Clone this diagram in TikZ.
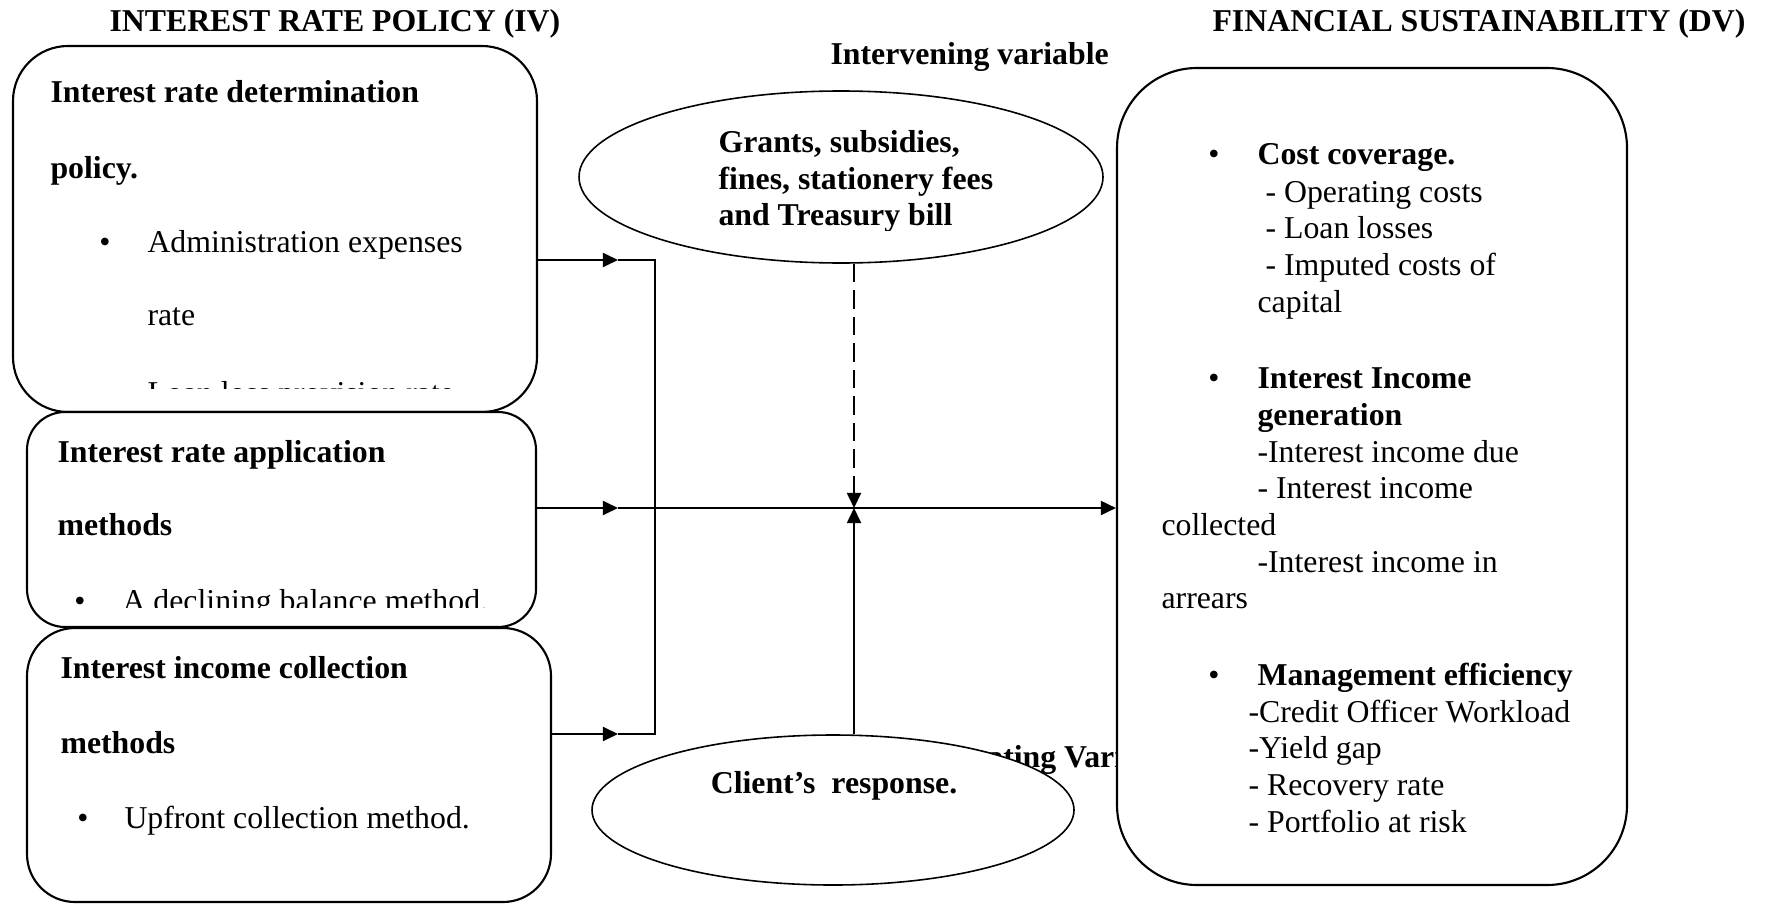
\documentclass[tikz,border=0pt]{standalone}
\usepackage{fontspec}
\setmainfont{Liberation Serif}
\usetikzlibrary{arrows.meta,shapes.geometric}

\newdimen\pix
\pix=0.3774pt

\tikzset{
  box/.style={draw=black,fill=white,line width=0.8pt,inner sep=0pt},
  oval/.style={ellipse,draw=black,fill=white,line width=0.6pt,inner sep=0pt},
  txt/.style={anchor=base west,inner sep=0pt,font=\fontsize{12}{14}\selectfont},
  hd/.style={txt,font=\fontsize{12}{14}\selectfont\bfseries},
  dot/.style={anchor=base,inner sep=0pt,font=\fontsize{12}{14}\selectfont},
  conn/.style={draw=black,line width=0.75pt},
  arr/.style={conn,-{Triangle[length=5.7pt,width=5.3pt]}},
}

\begin{document}
\begin{tikzpicture}[x=0.3774pt,y=-0.3774pt]
\useasboundingbox (0,0) rectangle (1765,904);

%titles
\node[hd] (iv) at (109,32) {INTEREST RATE POLICY (IV)};
\node[hd] (dvt) at (1212,32) {FINANCIAL SUSTAINABILITY (DV)};
\node[hd] (iv2) at (830,65) {Intervening variable};
\node[hd] (mod) at (895,767) {Moderating Variable};

%boxes
\node[box,rounded corners=55\pix,minimum width=524\pix,minimum height=366\pix] (det) at (275,229) {};
\node[box,rounded corners=38\pix,minimum width=509\pix,minimum height=215\pix] (app) at (281.5,519.5) {};
\node[box,rounded corners=48\pix,minimum width=524\pix,minimum height=274\pix] (col) at (289,765) {};
\node[box,rounded corners=80\pix,minimum width=510\pix,minimum height=817\pix] (dv) at (1372,476.5) {};
\node[oval,minimum width=524\pix,minimum height=172\pix] (grant) at (841,177) {};
\node[oval,minimum width=482\pix,minimum height=150\pix] (resp) at (833,810) {};

%determination
\begin{scope}
\clip (13,46) rectangle (537,388);
\node[hd] (d1) at (50,103) {Interest rate determination};
\node[hd] (d2) at (50,178) {policy.};
\node[dot] (d3) at (105,252) {\textbullet};
\node[txt] (d4) at (147,252) {Administration expenses};
\node[txt] (d5) at (147,325) {rate};
\node[txt] (d6) at (147,403) {Loan loss provision rate};
\end{scope}

%application
\begin{scope}
\clip (27,412) rectangle (536,607);
\node[hd] (a1) at (57,462) {Interest rate application};
\node[hd] (a2) at (57,535) {methods};
\node[dot] (a3) at (80,611) {\textbullet};
\node[txt] (a4) at (122,611) {A declining balance method.};
\end{scope}

%collection
\node[hd] (c1) at (60,678) {Interest income collection};
\node[hd] (c2) at (60,753) {methods};
\node[dot] (c3) at (83,828) {\textbullet};
\node[txt] (c4) at (124,828) {Upfront collection method.};

%intervening
\begin{scope}
\clip (579,91) rectangle (1103,230);
\node[hd] (g1) at (718,152) {Grants, subsidies,};
\node[hd] (g2) at (718,189) {fines, stationery fees};
\node[hd] (g3) at (718,225) {and Treasury bill};
\end{scope}

%moderating
\node[hd,anchor=base] (r1) at (834,793) {Client’s\ \ response.};

%sustainability
\node[dot] (s0) at (1214,165) {\textbullet};
\node[hd] (s1) at (1257,165) {Cost coverage.};
\node[txt] (s2) at (1265,202) {- Operating costs};
\node[txt] (s3) at (1265,238) {- Loan losses};
\node[txt] (s4) at (1265,275) {- Imputed costs of};
\node[txt] (s5) at (1257,312) {capital};
\node[dot] (s6) at (1214,388) {\textbullet};
\node[hd] (s7) at (1257,388) {Interest Income};
\node[hd] (s8) at (1257,425) {generation};
\node[txt] (s9) at (1257,462) {-Interest income due};
\node[txt] (s10) at (1257,498) {- Interest income};
\node[txt] (s11) at (1161,535) {collected};
\node[txt] (s12) at (1257,572) {-Interest income in};
\node[txt] (s13) at (1161,608) {arrears};
\node[dot] (s14) at (1214,685) {\textbullet};
\node[hd] (s15) at (1257,685) {Management efficiency};
\node[txt] (s16) at (1248,722) {-Credit Officer Workload};
\node[txt] (s17) at (1248,758) {-Yield gap};
\node[txt] (s18) at (1248,795) {- Recovery rate};
\node[txt] (s19) at (1248,832) {- Portfolio at risk};

%connectors
\coordinate (m1) at (618,260);
\coordinate (m2) at (618,508);
\coordinate (m3) at (618,734);
\coordinate (top) at (655,260);
\coordinate (bot) at (655,734);
\coordinate (hub) at (854,508);

\path[arr] (det.east |- m1) -- (m1);
\path[arr] (app.east |- m2) -- (m2);
\path[arr] (col.east |- m3) -- (m3);
\path[conn] (m1) -- (top) -- (bot) -- (m3);
\path[arr] (m2) -- (dv.west |- m2);
\path[arr,dash pattern=on 7pt off 3pt] (hub |- grant.south) -- (hub);
\path[arr] (hub |- resp.north) -- (hub);

\end{tikzpicture}
\end{document}
